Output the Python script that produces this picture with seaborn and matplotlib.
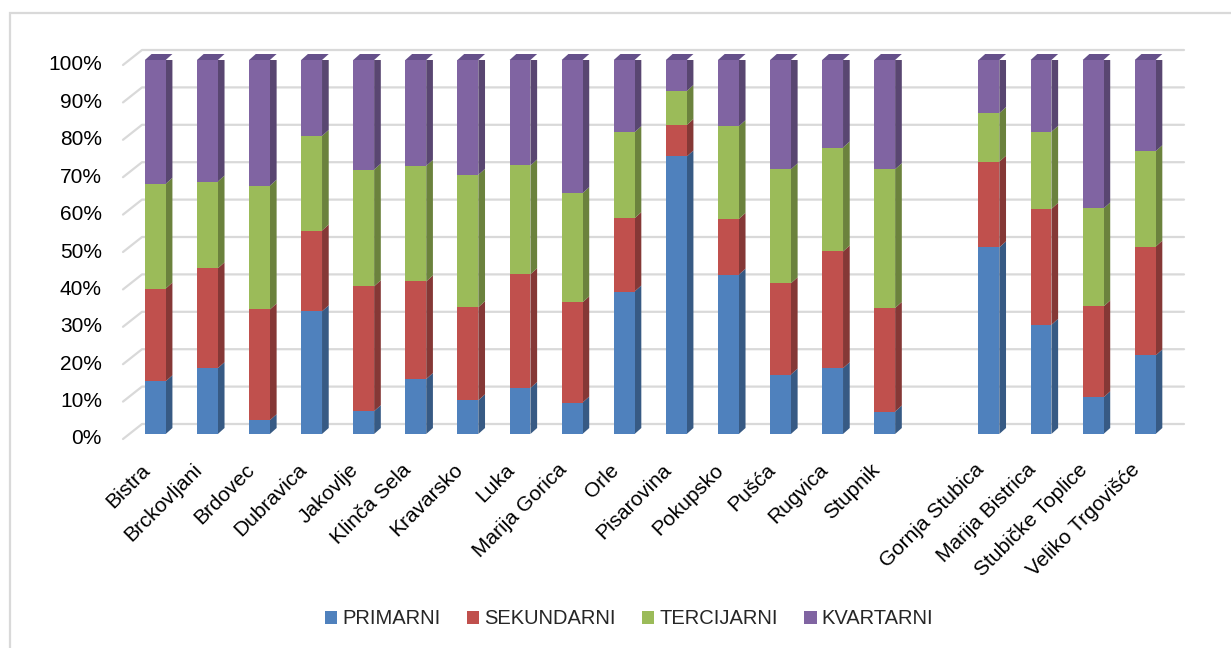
import numpy as np
import pandas as pd
import matplotlib
matplotlib.use("Agg")
import matplotlib.pyplot as plt
import seaborn as sns
from matplotlib import font_manager
from matplotlib.patches import Polygon, Patch, Rectangle
from matplotlib.lines import Line2D
from matplotlib.transforms import ScaledTranslation

# -------------------------------
# Data (shares, in %)
# -------------------------------
opcine = ["Bistra", "Brckovljani", "Brdovec", "Dubravica", "Jakovlje",
          "Klinča Sela", "Kravarsko", "Luka", "Marija Gorica", "Orle",
          "Pisarovina", "Pokupsko", "Pušća", "Rugvica", "Stupnik",
          "Gornja Stubica", "Marija Bistrica", "Stubičke Toplice",
          "Veliko Trgovišće"]
primarni = [14.1, 17.6, 3.7, 32.8, 6.1, 14.7, 9.0, 12.3, 8.4, 38.1,
            74.2, 42.6, 15.9, 17.6, 6.0, 49.9, 29.2, 9.8, 21.0]
sekundarni = [24.8, 26.7, 29.6, 21.6, 33.4, 26.1, 24.9, 30.4, 26.8, 19.6,
              8.4, 14.9, 24.4, 31.2, 27.7, 22.9, 31.0, 24.3, 29.1]
tercijarni = [28.0, 23.2, 33.1, 25.3, 31.2, 30.9, 35.4, 29.1, 29.2, 23.0,
              9.1, 24.8, 30.5, 27.8, 37.1, 13.0, 20.6, 26.2, 25.5]
kvartarni = [33.1, 32.5, 33.6, 20.3, 29.3, 28.3, 30.7, 28.2, 35.6, 19.3,
             8.3, 17.7, 29.2, 23.4, 29.2, 14.2, 19.2, 39.7, 24.4]

sektori = ["PRIMARNI", "SEKUNDARNI", "TERCIJARNI", "KVARTARNI"]
boje = ["#4f81bd", "#c0504d", "#9bbb59", "#8064a2"]
boje_bok = ["#375a84", "#853836", "#6b823d", "#594671"]
boja_vrh = "#65508a"

# empty slot between the two groups of municipalities
redoslijed = opcine[:15] + [""] + opcine[15:]

df = pd.DataFrame({"opcina": opcine, "PRIMARNI": primarni,
                   "SEKUNDARNI": sekundarni, "TERCIJARNI": tercijarni,
                   "KVARTARNI": kvartarni})
df[sektori] = df[sektori].div(df[sektori].sum(axis=1), axis=0)
kum = df[sektori].cumsum(axis=1)

# -------------------------------
# Fonts
# -------------------------------
sns.set_style("white")
plt.rcParams["font.family"] = ["Liberation Sans", "DejaVu Sans"]
fs_tick = 15

# -------------------------------
# Figure
# -------------------------------
W, H = 1231, 648
fig = plt.figure(figsize=(W / 100, H / 100), dpi=100)
ax_l, ax_r, ax_b, ax_t = 123, 1165, 434, 60
ax = fig.add_axes([ax_l / W, 1 - ax_b / H, (ax_r - ax_l) / W, (ax_b - ax_t) / H])

sirina = 0.4
for i in range(3, -1, -1):
    sns.barplot(x=df["opcina"], y=kum[sektori[i]], order=redoslijed,
                color=boje[i], saturation=1, width=sirina, linewidth=0,
                ax=ax, zorder=3)

x0, x1 = -0.62, 19.38
ax.set_xlim(x0, x1)
ax.set_ylim(0, 1)
for s in ax.spines.values():
    s.set_visible(False)
ax.set_xticks([])
ax.set_yticks([])
ax.set_xlabel("")
ax.set_ylabel("")

# pixel -> data conversion
px_x = (x1 - x0) / (ax_r - ax_l)
px_y = 1.0 / (ax_b - ax_t)

# 3D side and top faces of the bars
dx, dy = 6.7 * px_x, 6 * px_y
pozicije = [redoslijed.index(o) for o in opcine]
for j, xp in enumerate(pozicije):
    dno = 0.0
    for i, s in enumerate(sektori):
        vrh = kum.loc[j, s]
        xr = xp + sirina / 2
        ax.add_patch(Polygon([(xr, dno), (xr + dx, dno + dy), (xr + dx, vrh + dy), (xr, vrh)],
                             closed=True, fc=boje_bok[i], ec="none", zorder=2))
        dno = vrh
    xl = xp - sirina / 2
    ax.add_patch(Polygon([(xl, 1), (xl + dx, 1 + dy), (xl + sirina + dx, 1 + dy), (xl + sirina, 1)],
                         closed=True, fc=boja_vrh, ec="none", zorder=2, clip_on=False))

# back wall gridlines with the small diagonal on the left
gdx, gdy_f, gdy_b = 19 * px_x, -5 * px_y, 10 * px_y
for v in np.arange(0, 1.01, 0.1):
    ax.add_line(Line2D([x0, x0 + gdx, x1 + gdx], [v + gdy_f, v + gdy_b, v + gdy_b],
                       color="#d9d9d9", lw=1.6, zorder=1, clip_on=False))

# y labels
ytrans = ax.get_yaxis_transform() + ScaledTranslation(-0.21, -0.05, fig.dpi_scale_trans)
for v in np.arange(0, 1.01, 0.1):
    ax.text(0, v, f"{v * 100:.0f}%", transform=ytrans, ha="right", va="center",
            fontsize=fs_tick, color="black")

# x labels
xtrans = ax.transData + ScaledTranslation(-0.08, -0.33, fig.dpi_scale_trans)
for o, xp in zip(opcine, pozicije):
    ax.text(xp, 0, o, transform=xtrans, ha="right", va="center", rotation=45,
            rotation_mode="anchor", fontsize=fs_tick, color="black")

# legend
rucke = [Patch(facecolor=c, edgecolor="none", label=s) for s, c in zip(sektori, boje)]
fig.legend(handles=rucke, loc="center", bbox_to_anchor=(0.511, 1 - 619 / H), ncol=4,
           frameon=False, fontsize=14.5, handlelength=0.62, handleheight=0.62,
           handletextpad=0.25, columnspacing=1.3)

# chart area border
fig.add_artist(Rectangle((10 / W, -0.2), 1.5, 1.2 - 13 / H, transform=fig.transFigure,
                         fill=False, ec="#d9d9d9", lw=1.6))

fig.savefig("out.png", dpi=100)
